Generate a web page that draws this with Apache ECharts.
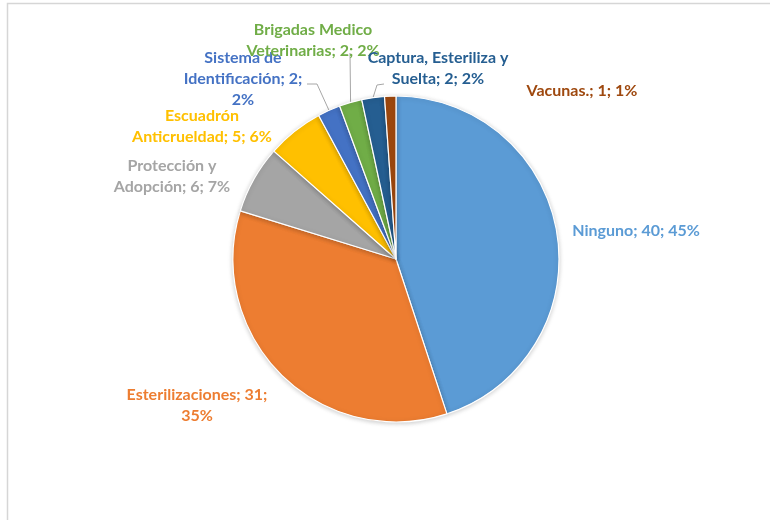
<!DOCTYPE html>
<html>
<head>
<meta charset="utf-8">
<script src="https://cdn.jsdelivr.net/npm/echarts@6/dist/echarts.min.js"></script>
<style>
  html, body { margin: 0; padding: 0; background: #fff; }
  #pie1 { width: 770px; height: 520px; }
</style>
</head>
<body>
<div id="pie1"></div>
<script>
  // datos
  var names = ['Ninguno', 'Esterilizaciones', 'Protección y Adopción', 'Escuadrón Anticrueldad',
    'Sistema de Identificación', 'Brigadas Medico Veterinarias', 'Captura, Esteriliza y Suelta', 'Vacunas.']
  var values = [40, 31, 6, 5, 2, 2, 2, 1]

  var colors = ['#5B9BD5', '#ED7D31', '#A5A5A5', '#FFC000', '#4472C4', '#70AD47', '#255E91', '#9E480E']
  // max caracteres por linea de etiqueta
  var wrapChars = [40, 21, 15, 19, 18, 19, 21, 40]
  // centro de cada etiqueta
  var labelPos = [[636, 231], [197, 405], [172, 176], [202, 126], [243, 79], [313, 40], [438, 68], [582, 91]]
  var leaderLines = [null, null, null, null, [[317, 84], [307, 84]], [[350, 53]], [[377, 85], [384, 84]], null]

  function wrap(text, max) {
    var words = text.split(' ')
    var lines = []
    var cur = ''
    words.forEach(function (w) {
      if (cur === '') cur = w
      else if ((cur + ' ' + w).length <= max) cur += ' ' + w
      else { lines.push(cur); cur = w }
    })
    if (cur) lines.push(cur)
    return lines.join('\n')
  }

  var data = names.map(function (n, i) {
    return {
      name: n,
      value: values[i],
      itemStyle: { color: colors[i] },
      label: { color: colors[i] },
      labelLine: { show: leaderLines[i] != null }
    }
  })

  var chart = echarts.init(document.getElementById('pie1'))
  var option = {
    animation: false,
    graphic: [{
      type: 'rect',
      shape: { x: 7.5, y: 3.5, width: 900, height: 700 },
      style: { fill: 'none', stroke: '#d6d6d6', lineWidth: 1.5 },
      silent: true
    }],
    series: [{
      type: 'pie',
      center: [396, 259],
      radius: 163,
      startAngle: 90,
      clockwise: true,
      avoidLabelOverlap: false,
      percentPrecision: 0,
      itemStyle: {
        borderColor: '#fff',
        borderWidth: 1.2,
        shadowBlur: 5,
        shadowOffsetY: 1,
        shadowColor: 'rgba(0,0,0,0.2)'
      },
      label: {
        show: true,
        position: 'outside',
        fontFamily: 'Lato',
        fontWeight: 'bold',
        fontSize: 16,
        lineHeight: 21,
        align: 'center',
        formatter: function (p) {
          return wrap(p.name + '; ' + p.value + '; ' + p.percent + '%', wrapChars[p.dataIndex])
        }
      },
      labelLine: {
        lineStyle: { color: '#a6a6a6', width: 1 }
      },
      labelLayout: function (p) {
        var i = p.dataIndex
        var res = {
          x: labelPos[i][0],
          y: labelPos[i][1],
          align: 'center',
          verticalAlign: 'middle'
        }
        if (leaderLines[i] && p.labelLinePoints) {
          res.labelLinePoints = [p.labelLinePoints[0]].concat(leaderLines[i])
        }
        return res
      },
      data: data
    }]
  }
  chart.setOption(option)
</script>
</body>
</html>
